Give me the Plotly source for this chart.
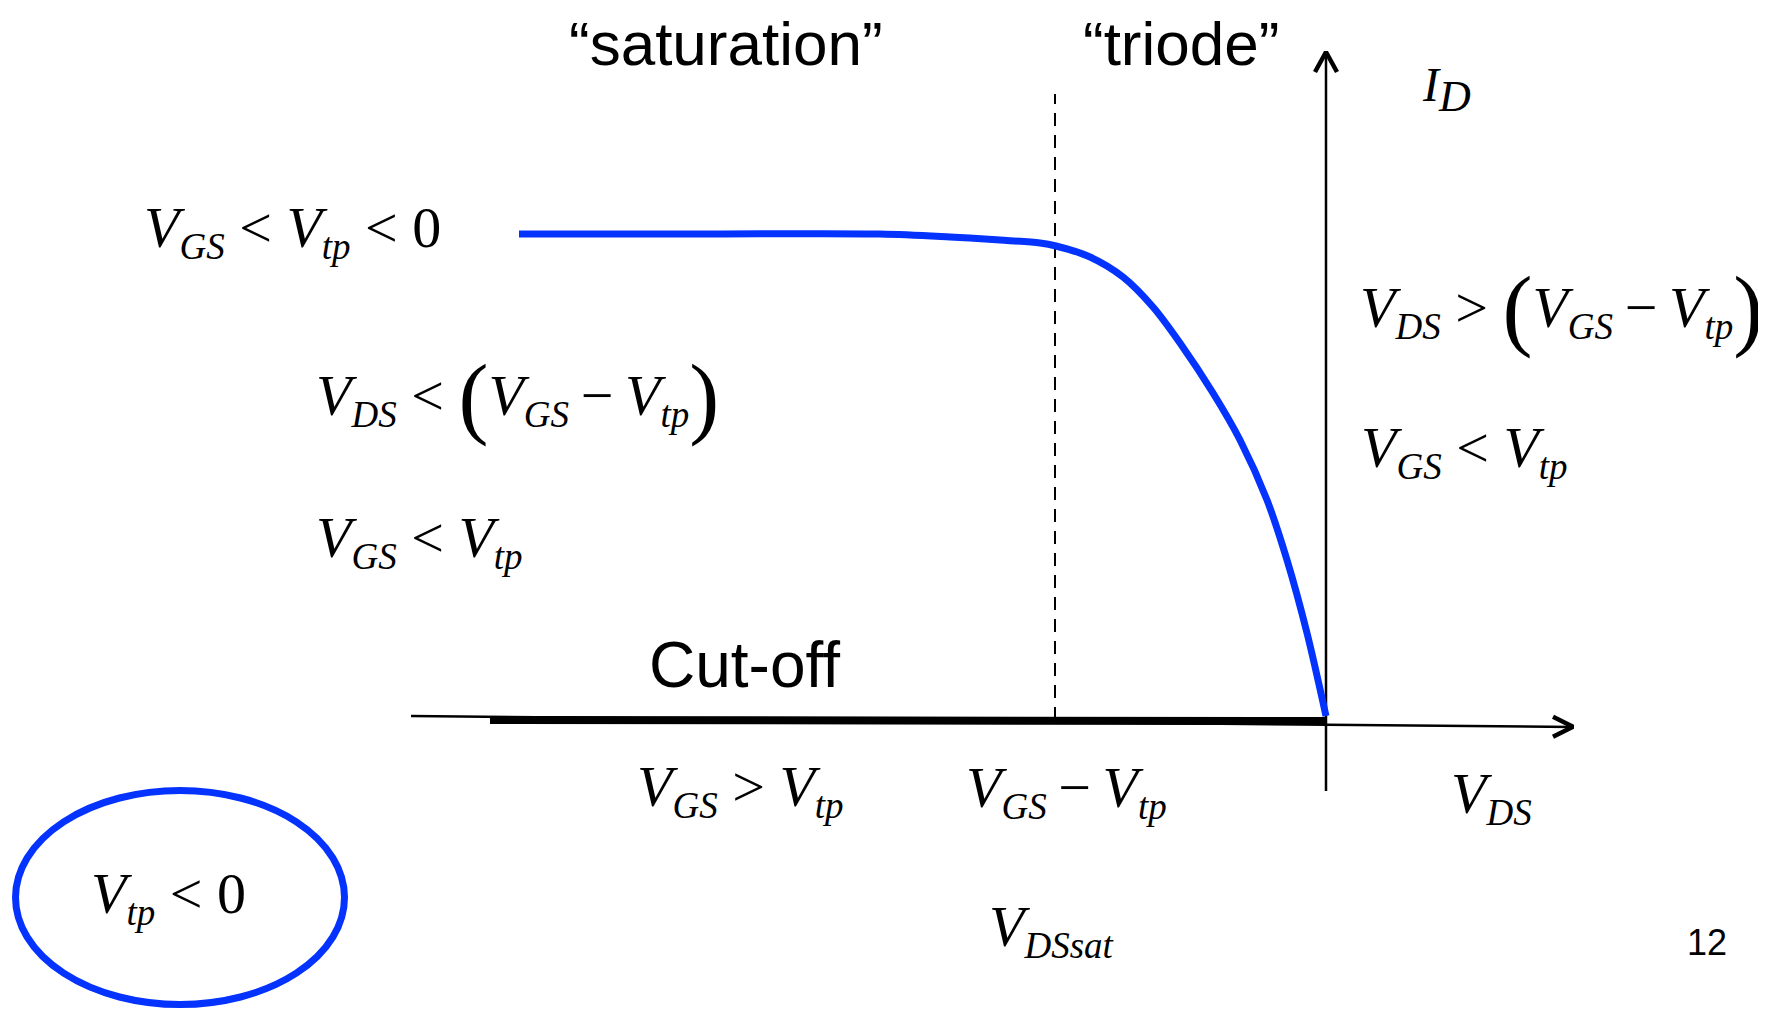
import plotly.graph_objects as go

# ---- data (V_DS, I_D in arbitrary diagram units; origin at axes crossing) ----
curve_vds = [-8.07, -6.26, -4.46, -3.76, -3.26, -2.86, -2.70, -2.36, -2.03, -1.73,
             -1.46, -1.13, -0.86, -0.59, -0.39, -0.19, 0.0]
curve_id = [4.86, 4.86, 4.86, 4.83, 4.80, 4.77, 4.74, 4.63, 4.43, 4.13,
            3.77, 3.27, 2.80, 2.20, 1.60, 0.87, 0.04]

cutoff_vds = [-8.36, 0.0]
cutoff_id = [0.0, -0.01]

vds_axis_x = [-9.15, 2.47]
vds_axis_y = [0.04, -0.07]
vds_head_x = [2.27, 2.47, 2.27]
vds_head_y = [0.033, -0.067, -0.167]

id_axis_x = [0.0, 0.0]
id_axis_y = [-0.71, 6.68]
id_head_x = [-0.11, 0.0, 0.11]
id_head_y = [6.48, 6.68, 6.48]

vdssat_x = [-2.71, -2.71]
vdssat_y = [0.0, 6.26]

ellipse_x = [-13.105, -9.815]
ellipse_y = [-2.845, -0.705]

BLUE = "#0433FF"
SERIF = "Liberation Serif, Times New Roman, serif"
SANS = "Liberation Sans, Arial, sans-serif"

fig = go.Figure()
fig.add_trace(go.Scatter(x=vds_axis_x, y=vds_axis_y, mode="lines",
                         line=dict(color="black", width=2.5)))
fig.add_trace(go.Scatter(x=vds_head_x, y=vds_head_y, mode="lines",
                         line=dict(color="black", width=4.5)))
fig.add_trace(go.Scatter(x=id_axis_x, y=id_axis_y, mode="lines",
                         line=dict(color="black", width=2.5)))
fig.add_trace(go.Scatter(x=id_head_x, y=id_head_y, mode="lines",
                         line=dict(color="black", width=4.5)))
fig.add_trace(go.Scatter(x=vdssat_x, y=vdssat_y, mode="lines",
                         line=dict(color="black", width=2, dash="13px,9px")))
fig.add_trace(go.Scatter(x=cutoff_vds, y=cutoff_id, mode="lines",
                         line=dict(color="black", width=8)))
fig.add_trace(go.Scatter(x=curve_vds, y=curve_id, mode="lines",
                         line=dict(color=BLUE, width=7, shape="spline", smoothing=0.9)))

fig.add_shape(type="circle", xref="x", yref="y",
              x0=ellipse_x[0], x1=ellipse_x[1], y0=ellipse_y[0], y1=ellipse_y[1],
              line=dict(color=BLUE, width=7))

def V(sub):
    return "<i>V</i><sub><span style=\"font-size:37px\"><i>%s</i></span></sub>" % sub

BIG_L = '<sub><span style="font-size:90px">(</span></sub>'
BIG_R = '<sub><span style="font-size:90px">)</span></sub>'
MINUS = "&#8201;−&#8201;"

texts = [
    (V("GS") + " &lt; " + V("tp") + " &lt; 0", -11.83, 4.8875, SERIF, 58),
    (V("DS") + " &lt; " + BIG_L + V("GS") + MINUS + V("tp") + BIG_R, -10.11, 3.232, SERIF, 58),
    (V("GS") + " &lt; " + V("tp"), -10.11, 1.7875, SERIF, 58),
    (V("DS") + " &gt; " + BIG_L + V("GS") + MINUS + V("tp") + BIG_R, 0.33, 4.112, SERIF, 58),
    (V("GS") + " &lt; " + V("tp"), 0.34, 2.6875, SERIF, 58),
    ('<i>I</i><sub><span style="font-size:44px"><i>D</i></span></sub>', 0.95, 6.306, SERIF, 48),
    ("“saturation”", -7.58, 6.765, SANS, 62),
    ("“triode”", -2.44, 6.765, SANS, 62),
    ("Cut-off", -6.78, 0.55, SANS, 64),
    (V("GS") + " &gt; " + V("tp"), -6.90, -0.7025, SERIF, 58),
    (V("GS") + MINUS + V("tp"), -3.61, -0.7125, SERIF, 58),
    (V("DS"), 1.24, -0.7725, SERIF, 58),
    (V("DSsat"), -3.38, -2.1025, SERIF, 58),
    (V("tp") + " &lt; 0", -12.36, -1.7725, SERIF, 58),
    ("12", 3.60, -2.225, SANS, 36),
]
for txt, x, y, fam, size in texts:
    fig.add_annotation(text=txt, x=x, y=y, xref="x", yref="y",
                       xanchor="left", yanchor="middle", showarrow=False,
                       borderpad=0,
                       font=dict(family=fam, size=size, color="black"))

# the page body adds an 8px margin, so the figure is 8px smaller and the
# axis ranges are set so that the origin sits where the reference puts it
fig.update_layout(
    width=1758, height=1003,
    margin=dict(l=0, r=0, t=0, b=0),
    paper_bgcolor="white", plot_bgcolor="white",
    showlegend=False,
    xaxis=dict(range=[-13.18, 4.40], visible=False, fixedrange=True),
    yaxis=dict(range=[-2.91, 7.12], visible=False, fixedrange=True),
)
fig.write_html("out.html", config={"displayModeBar": False})
